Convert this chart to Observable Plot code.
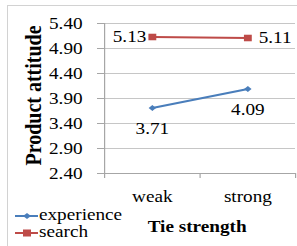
<!DOCTYPE html>
<html>
<head>
<meta charset="utf-8">
<script src="https://cdn.jsdelivr.net/npm/d3@7"></script>
<script src="https://cdn.jsdelivr.net/npm/@observablehq/plot@0.6"></script>
<style>
  html, body { margin: 0; padding: 0; background: #fff; }
  #wrap { position: relative; width: 297px; height: 246px; overflow: hidden; background: #fff; }
  #border { position: absolute; left: 7px; top: 5px; width: 330px; height: 280px; border: 1px solid #d2d2d2; }
  #chart { position: absolute; left: 0; top: 0; }
  .lrow { position: absolute; left: 15px; height: 18px; display: flex; align-items: flex-start;
          font-family: "Liberation Serif", serif; font-size: 16px; line-height: 18px; color: #000; white-space: nowrap; }
  .lrow span { display: inline-block; transform: scaleX(1.2); transform-origin: left center; margin-left: 1px; }
</style>
</head>
<body>
<div id="wrap">
  <div id="border"></div>
  <div id="chart"></div>
  <div id="legend"></div>
</div>
<script>
const categories = ["weak", "strong"];
const seriesNames = ["experience", "search"];
const experience = [3.71, 4.09];
const search = [5.13, 5.11];
const yTicks = [2.40, 2.90, 3.40, 3.90, 4.40, 4.90, 5.40];
const yTitle = "Product attitude";
const xTitle = "Tie strength";

const colors = ["#4A7EBB", "#BE4B48"];
const S = 1.2;              // horizontal stretch of the reference picture
const W = 297, H = 246;

const rows = categories.flatMap((c, i) => [
  {cat: c, i, series: "experience", value: experience[i]},
  {cat: c, i, series: "search", value: search[i]}
]);
const X = d => d.i + 0.5;

const diamondSym = {draw(ctx, size) {
  const r = Math.sqrt(size) * 0.62625;
  ctx.moveTo(0, -r); ctx.lineTo(r, 0); ctx.lineTo(0, r); ctx.lineTo(-r, 0); ctx.closePath();
}};

const exp = rows.filter(d => d.series === "experience");
const sea = rows.filter(d => d.series === "search");

const svg = Plot.plot({
  width: W / S, height: H,
  marginLeft: 104 / S, marginRight: 2 / S, marginTop: 23, marginBottom: 73,
  style: {fontFamily: "'Liberation Serif', serif", fontSize: "16px", color: "#000", background: "transparent", overflow: "visible"},
  x: {domain: [0, categories.length], axis: null},
  y: {domain: [2.4, 5.4], axis: null},
  color: {domain: seriesNames, range: colors},
  marks: [
    Plot.ruleY(yTicks, {stroke: "#c6c6c6"}),
    Plot.ruleX([0], {stroke: "#a6a6a6"}),
    Plot.ruleY([2.4], {stroke: "#a6a6a6"}),
    Plot.axisY({ticks: yTicks, tickFormat: d => d.toFixed(2), tickSize: 7 / S, tickPadding: 12.5, stroke: "#a6a6a6", fill: "#000", label: null}),
    Plot.axisX({ticks: d3.range(categories.length + 1), tickFormat: () => "", tickSize: 5, stroke: "#a6a6a6", label: null}),
    Plot.axisX({ticks: categories.map((c, i) => i + 0.5), tickFormat: d => categories[Math.floor(d)], tickSize: 0, tickPadding: 17.6, fill: "#000", label: null}),
    Plot.text([xTitle], {frameAnchor: "bottom", lineAnchor: "bottom", dy: 58, dx: -2.5, fontWeight: "bold", fontSize: 16, fill: "#000"}),
    Plot.text([yTitle], {frameAnchor: "left", rotate: -90, textAnchor: "middle", lineAnchor: "bottom", dx: -53.3, dy: -3, fontWeight: "bold", fontSize: 20, fill: "#000"}),
    Plot.line(rows, {x: X, y: "value", z: "series", stroke: "series", strokeWidth: 2}),
    Plot.dot(exp, {x: X, y: "value", symbol: diamondSym, r: 2.8, fill: colors[0], stroke: "none"}),
    Plot.dot(sea, {x: X, y: "value", symbol: "square", r: 3.7, fill: colors[1], stroke: "none"}),
    Plot.text(exp, {x: X, y: "value", text: d => d.value.toFixed(2), dy: 21, fill: "#000"}),
    Plot.text(sea.filter(d => d.i === 0), {x: X, y: "value", text: d => d.value.toFixed(2), textAnchor: "end", dx: -5, fill: "#000"}),
    Plot.text(sea.filter(d => d.i === categories.length - 1), {x: X, y: "value", text: d => d.value.toFixed(2), textAnchor: "start", dx: 9, fill: "#000"})
  ]
});
svg.setAttribute("preserveAspectRatio", "none");
svg.setAttribute("width", W);
svg.setAttribute("height", H);
svg.style.width = W + "px";
svg.style.height = H + "px";
svg.style.maxWidth = "none";
document.getElementById("chart").appendChild(svg);

// legend
const legend = document.getElementById("legend");
const rowTops = [206, 223];
seriesNames.forEach((name, k) => {
  const row = document.createElement("div");
  row.className = "lrow";
  row.style.top = rowTops[k] + "px";
  const marker = k === 0
    ? `<polygon points="8,10 12,7 16,10 12,13" fill="${colors[k]}"/>`
    : `<rect x="8" y="6.5" width="8" height="7" fill="${colors[k]}"/>`;
  row.innerHTML = `<svg width="23" height="18" style="display:block"><line x1="0" x2="23" y1="10" y2="10" stroke="${colors[k]}" stroke-width="2"/>${marker}</svg><span>${name}</span>`;
  legend.appendChild(row);
});
</script>
</body>
</html>
